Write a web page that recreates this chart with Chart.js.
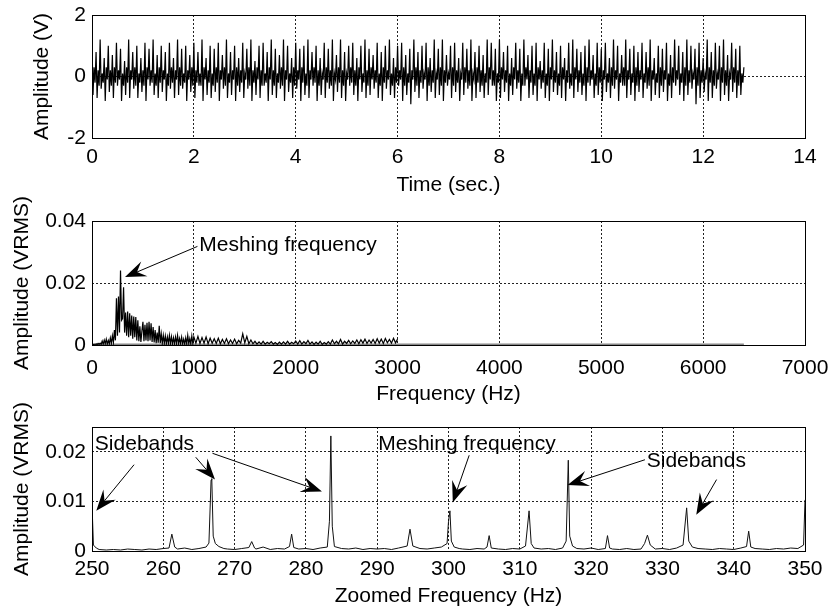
<!DOCTYPE html>
<html>
<head>
<meta charset="utf-8">
<script src="https://cdn.jsdelivr.net/npm/chart.js@4.4.1/dist/chart.umd.min.js"></script>
<style>
  html, body { margin: 0; padding: 0; background: #fff; }
  body { width: 832px; height: 610px; position: relative; overflow: hidden; }
  canvas { position: absolute; left: 0; }
</style>
</head>
<body>
<canvas id="c1" width="832" height="200" style="top:0px"></canvas>
<canvas id="c2" width="832" height="220" style="top:190px"></canvas>
<canvas id="c3" width="832" height="220" style="top:390px"></canvas>
<script>
// ---------- DATA ----------
// Time signal (V), sampled every 0.02 s from 0 to 12.8 s
const timeStep = 0.02;
const timeSignal = [
 1.1,-0.6,0.3,-0.2,0.8,-0.7,0.2,-0.3,1.2,-0.4,0.1,-0.2,0.6,-0.8,0.3,-0.1,1.0,-0.5,0.2,-0.3,
 0.7,-0.7,0.3,-0.2,1.1,-0.3,0.2,-0.1,0.9,-0.8,0.1,-0.3,0.5,-0.6,0.3,-0.2,1.2,-0.7,0.2,-0.1,
 0.8,-0.4,0.3,-0.3,1.0,-0.7,0.1,-0.2,0.6,-0.5,0.2,-0.3,1.1,-0.8,0.3,-0.1,0.9,-0.3,0.2,-0.2,
 1.2,-0.6,0.1,-0.3,0.7,-0.7,0.3,-0.2,1.0,-0.5,0.2,-0.1,0.8,-0.8,0.1,-0.3,1.1,-0.4,0.3,-0.2,
 0.6,-0.7,0.2,-0.1,1.2,-0.6,0.3,-0.3,0.9,-0.4,0.1,-0.2,1.0,-0.8,0.2,-0.1,0.7,-0.5,0.3,-0.3,
 1.1,-0.7,0.2,-0.2,0.8,-0.3,0.1,-0.3,1.2,-0.8,0.3,-0.1,0.6,-0.6,0.2,-0.2,1.0,-0.7,0.1,-0.3,
 0.9,-0.5,0.3,-0.2,1.1,-0.8,0.2,-0.1,0.7,-0.4,0.3,-0.3,1.2,-0.7,0.1,-0.2,0.8,-0.6,0.2,-0.1,
 1.0,-0.8,0.3,-0.3,0.6,-0.5,0.2,-0.2,1.1,-0.7,0.1,-0.1,0.9,-0.4,0.3,-0.3,1.2,-0.8,0.2,-0.2,
 0.5,-0.6,0.3,-0.1,1.0,-0.7,0.2,-0.3,1.1,-0.3,0.1,-0.2,0.8,-0.8,0.3,-0.1,1.2,-0.6,0.2,-0.3,
 0.9,-0.7,0.1,-0.2,0.7,-0.4,0.3,-0.3,1.2,-0.8,0.2,-0.1,1.0,-0.5,0.1,-0.2,0.6,-0.7,0.3,-0.3,
 1.1,-0.4,0.2,-0.1,0.9,-0.8,0.3,-0.2,1.0,-0.6,0.1,-0.3,1.2,-0.7,0.2,-0.1,0.8,-0.3,0.3,-0.2,
 1.0,-0.8,0.2,-0.3,0.6,-0.6,0.1,-0.1,1.1,-0.7,0.3,-0.2,0.9,-0.4,0.2,-0.3,1.2,-0.8,0.1,-0.1,
 0.7,-0.5,0.3,-0.2,1.2,-0.7,0.2,-0.3,0.8,-0.8,0.1,-0.1,1.0,-0.3,0.3,-0.2,1.1,-0.6,0.2,-0.3,
 0.6,-0.8,0.3,-0.1,1.0,-0.5,0.1,-0.2,1.2,-0.7,0.2,-0.3,0.9,-0.6,0.3,-0.1,0.7,-0.4,0.2,-0.2,
 1.1,-0.7,0.1,-0.3,0.8,-0.8,0.3,-0.2,1.0,-0.4,0.2,-0.1,1.2,-0.6,0.1,-0.3,0.6,-0.7,0.3,-0.2,
 1.0,-0.3,0.2,-0.1,1.1,-0.8,0.3,-0.3,0.7,-0.6,0.1,-0.2,0.9,-0.9,0.2,-0.1,1.2,-0.5,0.3,-0.3,
 0.8,-0.7,0.2,-0.2,1.0,-0.4,0.1,-0.1,1.1,-0.8,0.3,-0.3,0.6,-0.5,0.2,-0.2,1.2,-0.7,0.1,-0.1,
 0.9,-0.6,0.3,-0.3,1.2,-0.8,0.2,-0.2,0.7,-0.3,0.1,-0.1,1.0,-0.7,0.3,-0.3,1.1,-0.5,0.2,-0.2,
 0.6,-0.8,0.1,-0.1,1.1,-0.6,0.3,-0.2,0.9,-0.4,0.2,-0.3,1.2,-0.8,0.1,-0.1,0.8,-0.7,0.3,-0.2,
 1.0,-0.5,0.2,-0.3,0.7,-0.7,0.1,-0.2,1.2,-0.6,0.3,-0.1,1.1,-0.3,0.2,-0.3,0.9,-0.8,0.1,-0.2,
 1.2,-0.7,0.3,-0.1,0.8,-0.5,0.2,-0.2,1.0,-0.8,0.1,-0.3,0.6,-0.6,0.3,-0.1,1.1,-0.4,0.2,-0.2,
 0.9,-0.8,0.1,-0.3,1.2,-0.3,0.3,-0.1,0.7,-0.7,0.2,-0.2,1.0,-0.6,0.1,-0.3,1.1,-0.8,0.3,-0.1,
 0.5,-0.4,0.2,-0.2,1.1,-0.7,0.1,-0.3,0.9,-0.8,0.3,-0.1,1.2,-0.5,0.2,-0.2,0.8,-0.6,0.1,-0.3,
 1.0,-0.7,0.3,-0.1,0.6,-0.8,0.2,-0.2,1.1,-0.4,0.1,-0.3,1.2,-0.7,0.3,-0.1,0.9,-0.5,0.2,-0.2,
 0.8,-0.6,0.1,-0.3,1.0,-0.8,0.3,-0.2,1.2,-0.3,0.2,-0.1,0.7,-0.7,0.1,-0.3,1.1,-0.6,0.3,-0.2,
 0.9,-0.8,0.2,-0.1,1.1,-0.5,0.1,-0.2,0.6,-0.7,0.3,-0.3,1.2,-0.4,0.2,-0.1,1.0,-0.8,0.1,-0.2,
 0.7,-0.3,0.3,-0.3,1.2,-0.7,0.2,-0.1,0.9,-0.6,0.1,-0.2,1.0,-0.8,0.3,-0.3,0.8,-0.5,0.2,-0.1,
 1.1,-0.7,0.1,-0.2,0.8,-0.4,0.3,-0.3,1.2,-0.8,0.2,-0.1,0.6,-0.6,0.1,-0.2,1.0,-0.7,0.3,-0.3,
 0.9,-0.5,0.2,-0.1,1.1,-0.8,0.1,-0.3,0.7,-0.7,0.3,-0.2,1.2,-0.3,0.2,-0.1,1.0,-0.6,0.1,-0.2,
 0.8,-0.8,0.3,-0.3,1.2,-0.6,0.2,-0.2,1.0,-0.4,0.1,-0.1,0.9,-0.9,0.3,-0.3,1.1,-0.7,0.2,-0.2,
 0.6,-0.5,0.1,-0.1,1.2,-0.8,0.3,-0.2,0.8,-0.7,0.2,-0.3,1.1,-0.4,0.1,-0.1,1.0,-0.8,0.3,-0.2,
 1.2,-0.6,0.2,-0.3,0.7,-0.8,0.1,-0.1,1.1,-0.5,0.3,-0.2,0.9,-0.7,0.2,-0.3,1.0,-0.6,0.1,-0.2,
 0.3
];

// Spectrum (VRMS): 0..1000 Hz every 10 Hz
const specLowStep = 10;
const specLowAmp = [
 0.0003,0.0001,0.0003,0.0001,0.0004,0.0001,0.0005,0.0002,0.0006,0.0002,
 0.0013,0.0003,0.0016,0.0004,0.0019,0.0003,0.0015,0.0004,0.0023,0.0005,
 0.0030,0.0008,0.0048,0.0015,0.0151,0.0030,0.0156,0.0040,0.0240,0.0080,
 0.0085,0.0186,0.0040,0.0105,0.0030,0.0108,0.0025,0.0102,0.0030,0.0095,
 0.0020,0.0092,0.0025,0.0090,0.0015,0.0080,0.0012,0.0060,0.0010,0.0045,
 0.0075,0.0012,0.0065,0.0015,0.0072,0.0012,0.0075,0.0015,0.0070,0.0010,
 0.0058,0.0008,0.0048,0.0006,0.0040,0.0007,0.0062,0.0006,0.0036,0.0005,
 0.0031,0.0005,0.0029,0.0004,0.0026,0.0005,0.0031,0.0004,0.0027,0.0004,
 0.0023,0.0004,0.0026,0.0004,0.0031,0.0004,0.0021,0.0004,0.0025,0.0004,
 0.0019,0.0003,0.0023,0.0003,0.0031,0.0004,0.0021,0.0003,0.0029,0.0004,
 0.0026
];
// Spectrum (VRMS): 1020..3000 Hz every 20 Hz
const specHighStart = 1020, specHighStep = 20;
const specHighAmp = [
 0.0006,0.0028,0.0005,0.0024,0.0006,0.0026,0.0004,0.0022,0.0006,0.0020,
 0.0005,0.0022,0.0004,0.0018,0.0005,0.0020,0.0004,0.0016,0.0005,0.0019,
 0.0004,0.0015,0.0006,0.0036,0.0007,0.0028,0.0004,0.0016,0.0004,0.0012,
 0.0003,0.0010,0.0003,0.0012,0.0003,0.0009,0.0004,0.0011,0.0003,0.0008,
 0.0002,0.0009,0.0003,0.0010,0.0003,0.0012,0.0003,0.0009,0.0004,0.0013,
 0.0003,0.0014,0.0003,0.0011,0.0004,0.0015,0.0003,0.0010,0.0002,0.0009,
 0.0003,0.0012,0.0002,0.0008,0.0003,0.0011,0.0003,0.0016,0.0004,0.0012,
 0.0004,0.0018,0.0003,0.0012,0.0005,0.0015,0.0004,0.0013,0.0005,0.0016,
 0.0004,0.0017,0.0006,0.0019,0.0005,0.0016,0.0006,0.0018,0.0005,0.0020,
 0.0006,0.0019,0.0005,0.0021,0.0007,0.0018,0.0006,0.0022,0.0007,0.0019
];
// Grey floor of the spectrum
const specFloorFreq = [40, 6400];
const specFloorAmp = [0.0002, 0.0002];

// Zoomed spectrum 250..350 Hz
const zoomFreq = [
 250.0,250.2,250.6,251,252,253,254,255,256,257,258,259,260,260.8,261.2,261.6,262,263,264,265,
 266,266.4,266.7,266.8,267.0,267.3,267.8,268.5,269,270,271,272,272.4,272.8,273,274,275,276,277,277.7,
 278.0,278.3,279,280,281,282,283,283.3,283.5,283.7,284,285,286,287,288,289,290,291,292,293,
 294.2,294.6,295.0,296,297,298,299,299.8,300.0,300.2,300.4,300.8,301.5,302,303,304,305,305.4,305.7,306,
 307,308,309,310,310.8,311.3,311.6,312,313,314,315,316,316.5,316.8,317.0,317.4,318,319,320,321,
 322,322.3,322.6,323,324,325,326,327,327.5,327.9,328.3,329,330,331,332,332.9,333.4,333.7,334.2,335,
 336,337,338,339,340,341,341.8,342.1,342.4,343,344,345,346,347,348,349,349.8,350
];
const zoomAmp = [
 0.0095,0.0012,0.0006,0.0003,0.0002,0.0003,0.0002,0.0004,0.0003,0.0002,0.0004,0.0003,0.0005,0.0006,0.0034,0.0008,0.0004,0.0006,0.0003,0.0005,
 0.0008,0.0016,0.0143,0.0146,0.0030,0.0015,0.0009,0.0005,0.0004,0.0003,0.0005,0.0007,0.0019,0.0006,0.0004,0.0008,0.0003,0.0005,0.0004,0.0009,
 0.0034,0.0007,0.0004,0.0005,0.0003,0.0006,0.0008,0.0060,0.0232,0.0050,0.0009,0.0005,0.0004,0.0006,0.0003,0.0005,0.0004,0.0005,0.0003,0.0006,
 0.0010,0.0044,0.0010,0.0005,0.0004,0.0006,0.0008,0.0015,0.0060,0.0081,0.0020,0.0008,0.0005,0.0004,0.0003,0.0005,0.0004,0.0008,0.0031,0.0006,
 0.0004,0.0003,0.0005,0.0004,0.0010,0.0081,0.0015,0.0006,0.0004,0.0005,0.0003,0.0006,0.0020,0.0183,0.0030,0.0010,0.0005,0.0004,0.0006,0.0003,
 0.0005,0.0031,0.0006,0.0004,0.0003,0.0005,0.0003,0.0004,0.0015,0.0032,0.0012,0.0004,0.0005,0.0003,0.0006,0.0012,0.0087,0.0020,0.0008,0.0005,
 0.0004,0.0003,0.0005,0.0004,0.0003,0.0006,0.0009,0.0040,0.0008,0.0005,0.0004,0.0003,0.0005,0.0004,0.0006,0.0005,0.0012,0.0103
];

// Tick settings
const timeTicks = {min: 0, max: 14, step: 2};
const voltTicks = {min: -2, max: 2, step: 2};
const freqTicks = {min: 0, max: 7000, step: 1000};
const specTicks = {min: 0, max: 0.04, step: 0.02};
const zoomFreqTicks = {min: 250, max: 350, step: 10};
const zoomAmpTicks = {min: 0, max: 0.025, step: 0.01};

// ---------- RENDERING ----------
const FONT = '"Liberation Sans", Arial, Helvetica, sans-serif';
Chart.defaults.font.family = FONT;
Chart.defaults.font.size = 21;
Chart.defaults.color = '#000';

function fmt(v) { return String(+Number(v).toFixed(4)); }

function notesPlugin(cfg) {
  return {
    id: 'notes',
    afterDatasetsDraw(chart) {
      const {ctx, chartArea: a, scales: {x, y}} = chart;
      ctx.save();
      ctx.strokeStyle = '#000';
      ctx.lineWidth = 1;
      ctx.setLineDash([]);
      const L = Math.round(a.left), T = Math.round(a.top), R = Math.round(a.right), B = Math.round(a.bottom);
      ctx.strokeRect(L + 0.5, T + 0.5, R - L, B - T);
      ctx.fillStyle = '#000';
      ctx.font = '21px ' + FONT;
      ctx.textBaseline = 'middle';
      ctx.textAlign = 'left';
      (cfg.texts || []).forEach(t => {
        ctx.fillText(t.text, x.getPixelForValue(t.x), y.getPixelForValue(t.y));
      });
      (cfg.arrows || []).forEach(ar => {
        const x1 = x.getPixelForValue(ar.x1), y1 = y.getPixelForValue(ar.y1);
        const x2 = x.getPixelForValue(ar.x2), y2 = y.getPixelForValue(ar.y2);
        const dx = x2 - x1, dy = y2 - y1, len = Math.hypot(dx, dy);
        const ux = dx / len, uy = dy / len, nx = -uy, ny = ux;
        const HL = 21, HW = 16;
        const nbx = x2 - ux * HL * 0.62, nby = y2 - uy * HL * 0.62;
        ctx.beginPath();
        ctx.moveTo(x1, y1);
        ctx.lineTo(nbx, nby);
        ctx.stroke();
        ctx.beginPath();
        ctx.moveTo(x2, y2);
        ctx.lineTo(x2 - ux * HL + nx * HW / 2, y2 - uy * HL + ny * HW / 2);
        ctx.lineTo(nbx, nby);
        ctx.lineTo(x2 - ux * HL - nx * HW / 2, y2 - uy * HL - ny * HW / 2);
        ctx.closePath();
        ctx.fill();
      });
      ctx.restore();
    }
  };
}

function axisX(t, title, padTick, axisH, padTitle) {
  return {
    type: 'linear', min: t.min, max: t.max,
    ticks: {stepSize: t.step, padding: padTick, autoSkip: false, maxRotation: 0, callback: fmt},
    grid: {color: '#222', lineWidth: 1, drawTicks: false, borderDash: [2, 2]},
    border: {display: false, dash: [2, 2]},
    title: {display: true, text: title, padding: {top: 0, bottom: padTitle}},
    afterFit: s => { s.height = axisH; s.paddingLeft = 0; s.paddingRight = 0; }
  };
}
function axisY(t, title, padTitle) {
  return {
    type: 'linear', min: t.min, max: t.max,
    ticks: {stepSize: t.step, padding: 6, includeBounds: false, callback: fmt},
    grid: {color: '#222', lineWidth: 1, drawTicks: false, borderDash: [2, 2]},
    border: {display: false, dash: [2, 2]},
    title: {display: true, text: title, padding: {top: padTitle, bottom: 0}},
    afterFit: s => { s.width = 92; s.paddingTop = 0; s.paddingBottom = 0; }
  };
}
function baseOptions(padTop, xAxis, yAxis) {
  return {
    responsive: false, animation: false, devicePixelRatio: 1,
    layout: {padding: {top: padTop, right: 27, left: 0, bottom: 0}},
    plugins: {legend: {display: false}, tooltip: {enabled: false}},
    elements: {point: {radius: 0}, line: {tension: 0}},
    scales: {x: xAxis, y: yAxis}
  };
}

// Chart 1: time signal
new Chart(document.getElementById('c1'), {
  type: 'line',
  data: {datasets: [{
    data: timeSignal.map((v, i) => ({x: i * timeStep, y: v})),
    borderColor: '#000', borderWidth: 1.2
  }]},
  options: baseOptions(15, axisX(timeTicks, 'Time (sec.)', 7, 62, 2), axisY(voltTicks, 'Amplitude (V)', 30)),
  plugins: [notesPlugin({})]
});

// Chart 2: spectrum
const specData = specLowAmp.map((v, i) => ({x: i * specLowStep, y: v}))
  .concat(specHighAmp.map((v, i) => ({x: specHighStart + i * specHighStep, y: v})));
new Chart(document.getElementById('c2'), {
  type: 'line',
  data: {datasets: [
    {data: specFloorFreq.map((f, i) => ({x: f, y: specFloorAmp[i]})), borderColor: '#888', borderWidth: 2, order: 2},
    {data: specData, borderColor: '#000', borderWidth: 1.2, order: 1}
  ]},
  options: baseOptions(31, axisX(freqTicks, 'Frequency (Hz)', 11, 65, 3), axisY(specTicks, 'Amplitude (VRMS)', 10)),
  plugins: [notesPlugin({
    texts: [{text: 'Meshing frequency', x: 1053, y: 0.0321}],
    arrows: [{x1: 1035, y1: 0.0318, x2: 324, y2: 0.0219}]
  })]
});

// Chart 3: zoomed spectrum
new Chart(document.getElementById('c3'), {
  type: 'line',
  data: {datasets: [{
    data: zoomFreq.map((f, i) => ({x: f, y: zoomAmp[i]})),
    borderColor: '#111', borderWidth: 1
  }]},
  options: baseOptions(37, axisX(zoomFreqTicks, 'Zoomed Frequency (Hz)', 6, 59, 1), axisY(zoomAmpTicks, 'Amplitude (VRMS)', 10)),
  plugins: [notesPlugin({
    texts: [
      {text: 'Sidebands', x: 250.4, y: 0.0215},
      {text: 'Meshing frequency', x: 290.15, y: 0.0216},
      {text: 'Sidebands', x: 327.8, y: 0.0181}
    ],
    arrows: [
      {x1: 255.9, y1: 0.0174, x2: 250.6, y2: 0.0081},
      {x1: 264.55, y1: 0.0189, x2: 267.25, y2: 0.0144},
      {x1: 266.9, y1: 0.0197, x2: 282.25, y2: 0.0120},
      {x1: 302.9, y1: 0.0193, x2: 300.6, y2: 0.0098},
      {x1: 327.55, y1: 0.0184, x2: 316.7, y2: 0.0133},
      {x1: 337.6, y1: 0.0144, x2: 334.75, y2: 0.0073}
    ]
  })]
});
</script>
</body>
</html>
